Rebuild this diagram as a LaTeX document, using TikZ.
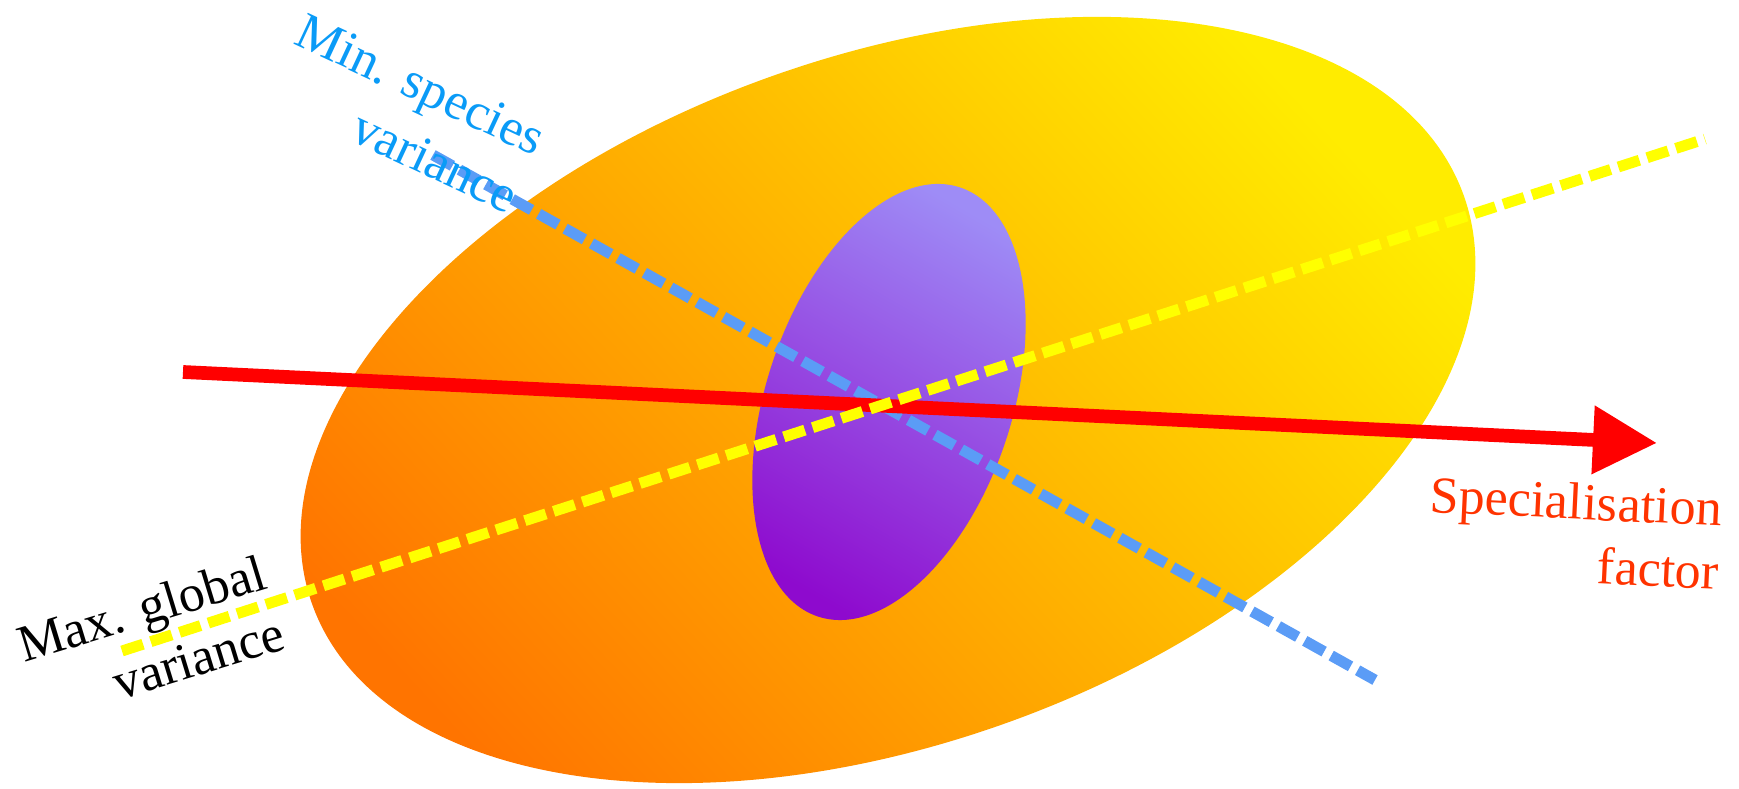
\documentclass[tikz,border=0pt]{standalone}
\usepackage{fontspec}
\setmainfont{Liberation Serif}
\usetikzlibrary{arrows.meta}
\definecolor{BlobOrange}{HTML}{FF7400}
\definecolor{BlobYellow}{HTML}{FFEC00}
\definecolor{CoreViolet}{HTML}{8E0ACE}
\definecolor{CoreLilac}{HTML}{9E8CF6}
\definecolor{AxisBlue}{HTML}{5B9CF6}
\definecolor{AxisYellow}{HTML}{FFFF00}
\definecolor{AxisRed}{HTML}{FF0000}
\definecolor{LabelBlue}{HTML}{0A9BF7}
\definecolor{LabelRed}{HTML}{FF3300}

\begin{document}
\begin{tikzpicture}[x=0.01cm,y=-0.01cm,
    axisline/.style={line width=3.1pt,dash pattern=on 6.3pt off 2.3pt},
    axislabel/.style={inner sep=0pt,anchor=east,align=right,font=\fontsize{14.8}{18}\selectfont}]
  \useasboundingbox (0,0) rectangle (1739,789);
  % the two clouds
  \shade[shift={(888,400)},rotate=19.5,top color=BlobYellow,bottom color=BlobOrange,shading angle=-47]
    (0,0) ellipse [x radius=611,y radius=344];
  \shade[shift={(889,402)},rotate=-18.3,top color=CoreLilac,bottom color=CoreViolet,shading angle=-30]
    (0,0) ellipse [x radius=123,y radius=226];
  % directions
  \draw[axisline,AxisBlue] (433,155) -- (1375,680);
  \draw[AxisRed,line width=3.9pt,-{Triangle[length=18.2pt,width=18.5pt]}] (183,372) -- (1657,443);
  \draw[axisline,AxisYellow] (122,651) -- (1705,139);
  \node[axislabel,text=LabelBlue,rotate=-25] (minlabel) at (529,170) {Min. species\\variance};
  \node[axislabel,rotate=17] (maxlabel) at (274,601) {Max. global\\variance};
  \node[axislabel,text=LabelRed,rotate=-2.75] (speclabel) at (1721,540) {Specialisation\\factor};
\end{tikzpicture}
\end{document}
